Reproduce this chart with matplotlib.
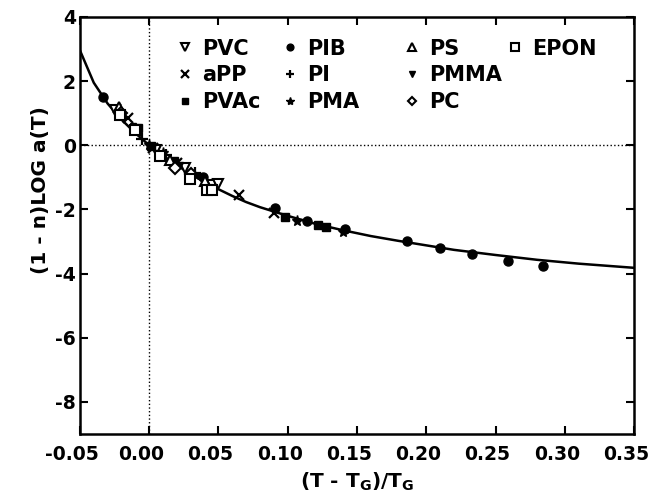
import matplotlib
matplotlib.use("Agg")
import matplotlib.pyplot as plt
import matplotlib.transforms as mtransforms
from matplotlib.lines import Line2D
import numpy as np

plt.rcParams['font.family'] = ['DejaVu Sans']
plt.rcParams['mathtext.fontset'] = 'custom'
plt.rcParams['mathtext.rm'] = 'DejaVu Sans:bold'
plt.rcParams['axes.unicode_minus'] = False

# fitted master curve
curve_x = [-0.05, -0.04, -0.03, -0.02, -0.01, 0.0, 0.01, 0.02, 0.03, 0.04, 0.05,
           0.06, 0.07, 0.08, 0.10, 0.12, 0.14, 0.16, 0.18, 0.20, 0.22, 0.25,
           0.28, 0.31, 0.35]
curve_y = [2.96, 1.95, 1.30, 0.80, 0.38, 0.0, -0.33, -0.62, -0.90, -1.15, -1.37,
           -1.58, -1.77, -1.93, -2.20, -2.45, -2.65, -2.83, -2.98, -3.12, -3.26,
           -3.42, -3.57, -3.69, -3.82]

# polymer data
pvc_x = [-0.025, 0.005, 0.026, 0.045, 0.050]
pvc_y = [1.10, -0.15, -0.72, -1.25, -1.20]
pib_x = [-0.033, 0.039, 0.091, 0.114, 0.141, 0.186, 0.210, 0.233, 0.259, 0.284]
pib_y = [1.50, -1.00, -1.95, -2.35, -2.60, -2.98, -3.20, -3.40, -3.60, -3.75]
ps_x = [-0.022, 0.015, 0.040]
ps_y = [1.20, -0.45, -1.10]
epon_x = [-0.021, -0.010, 0.008, 0.0295, 0.0415, 0.045]
epon_y = [0.95, 0.47, -0.35, -1.05, -1.40, -1.38]
app_x = [-0.015, 0.003, 0.020, 0.065, 0.090]
app_y = [0.85, -0.10, -0.55, -1.55, -2.10]
pi_x = [-0.005, 0.012, 0.033]
pi_y = [0.20, -0.30, -0.85]
pmma_x = [-0.012, 0.002, 0.022, 0.035]
pmma_y = [0.60, -0.05, -0.60, -0.95]
pvac_x = [-0.008, 0.001, 0.018, 0.098, 0.122, 0.128]
pvac_y = [0.55, -0.02, -0.50, -2.25, -2.48, -2.55]
pma_x = [0.000, 0.010, 0.107, 0.140]
pma_y = [0.00, -0.25, -2.35, -2.70]
pc_x = [-0.020, 0.019, 0.030]
pc_y = [1.00, -0.72, -0.90]

x_ticks = [-0.05, 0.00, 0.05, 0.10, 0.15, 0.20, 0.25, 0.30, 0.35]
y_ticks = [-8, -6, -4, -2, 0, 2, 4]

series = [
    ("PVC", pvc_x, pvc_y, dict(marker='v', mfc='white', mec='black', ms=7, mew=1.5)),
    ("aPP", app_x, app_y, dict(marker='x', color='black', ms=7, mew=1.6)),
    ("PVAc", pvac_x, pvac_y, dict(marker='s', mfc='black', mec='black', ms=6)),
    ("PIB", pib_x, pib_y, dict(marker='o', mfc='black', mec='black', ms=6.5)),
    ("PI", pi_x, pi_y, dict(marker='+', color='black', ms=8, mew=1.6)),
    ("PMA", pma_x, pma_y, dict(marker='*', mfc='black', mec='black', ms=8)),
    ("PS", ps_x, ps_y, dict(marker='^', mfc='white', mec='black', ms=7, mew=1.5)),
    ("PMMA", pmma_x, pmma_y, dict(marker='v', mfc='black', mec='black', ms=5)),
    ("PC", pc_x, pc_y, dict(marker='D', mfc='white', mec='black', ms=6, mew=1.5)),
    ("EPON", epon_x, epon_y, dict(marker='s', mfc='white', mec='black', ms=7, mew=1.5)),
]

fig = plt.figure(figsize=(6.55, 4.98), dpi=100)
ax = fig.add_axes([0.122, 0.1285, 0.846, 0.8375])

ax.axvline(0, color='black', linestyle=':', linewidth=1.0, zorder=1)
ax.axhline(0, color='black', linestyle=':', linewidth=1.0, zorder=1)

ax.plot(curve_x, curve_y, color='black', linewidth=1.8, zorder=2)

handles = []
for name, xs, ys, st in series:
    ax.plot(xs, ys, linestyle='none', zorder=3, **st)
    handles.append(Line2D([], [], linestyle='none', label=name, **st))

# legend as four separate columns
columns = [handles[0:3], handles[3:6], handles[6:9], handles[9:10]]
col_x = [0.175, 0.3646, 0.585, 0.771]
legs = []
for hs, cx in zip(columns, col_x):
    lg = ax.legend(hs, [h.get_label() for h in hs], loc='upper left',
                   bbox_to_anchor=(cx, 0.948), frameon=False, markerscale=0.75,
                   handlelength=0.8, handletextpad=0.42, labelspacing=0.32,
                   borderpad=0.0, borderaxespad=0.0,
                   prop={'family': 'DejaVu Sans', 'weight': 'bold', 'size': 15})
    legs.append(lg)
for lg in legs[:-1]:
    ax.add_artist(lg)

ax.set_xlim(-0.05, 0.35)
ax.set_ylim(-9, 4)
ax.set_xticks(x_ticks)
ax.set_xticklabels([f"{v:.2f}" for v in x_ticks])
ax.set_yticks(y_ticks)
ax.tick_params(direction='in', length=6, width=1.5, top=True, right=True,
               labelsize=13.5)
ax.tick_params(axis='x', pad=8)
ax.tick_params(axis='y', pad=3)
shift = mtransforms.ScaledTranslation(-8 / 100, 0, fig.dpi_scale_trans)
for lab in ax.get_xticklabels():
    lab.set_transform(lab.get_transform() + shift)
for lab in ax.get_xticklabels() + ax.get_yticklabels():
    lab.set_fontweight('bold')
for s in ax.spines.values():
    s.set_linewidth(1.8)

ax.set_xlabel(r"(T - T$_\mathregular{G}$)/T$_\mathregular{G}$", fontsize=14.5,
              fontweight='bold', labelpad=5)
ax.set_ylabel("(1 - n)LOG a(T)", fontsize=14.5, fontweight='bold')
ax.yaxis.set_label_coords(-0.054, 0.585)

fig.savefig("out.png", dpi=100)
